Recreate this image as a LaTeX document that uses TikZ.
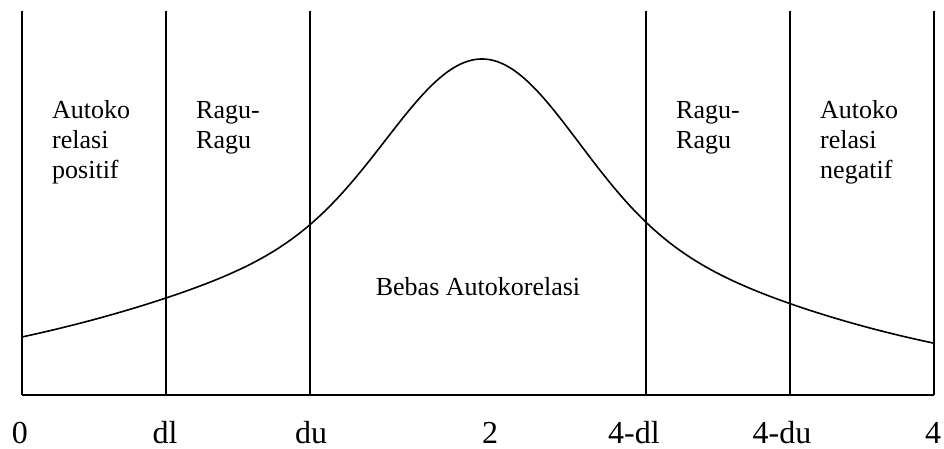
\documentclass[tikz,border=0pt]{standalone}
\usepackage{fontspec}
\setmainfont{Liberation Serif}
\begin{document}
\begin{tikzpicture}[x=1pt,y=-1pt,
  ln/.style={line width=1.6pt},
  zone/.style={font=\fontsize{26}{30}\selectfont, anchor=base west, align=left, inner sep=0pt},
  tick/.style={font=\fontsize{32}{36}\selectfont, anchor=base, inner sep=0pt}]
\useasboundingbox (0,0) rectangle (944,448);
% axis frame
\coordinate (b0) at (22,395);
\coordinate (b4) at (934,395);
\foreach \n/\x in {v0/22,v1/166,v2/310,v3/646,v4/790,v5/934}{
  \coordinate (\n t) at (\x,11);
  \coordinate (\n b) at (\x,395);
  \draw[ln] (\n t) -- (\n b);
}
\draw[ln] (b0) -- (b4);
% curve
\draw[ln, line join=round] plot[domain=-460:452, samples=181, smooth]
  ({482+\x}, {395 - 155*exp(-0.5*(\x/89)^2) - 181/cosh(\x/ifthenelse(\x<0,255,235))});
% zone labels
\node[zone] (z1) at (52,178) {Autoko\\relasi\\positif};
\node[zone] (z2) at (196,148) {Ragu-\\Ragu};
\node[zone] (z4) at (676,148) {Ragu-\\Ragu};
\node[zone] (z5) at (820,178) {Autoko\\relasi\\negatif};
\node[zone, anchor=base] (z3) at (478,295) {Bebas Autokorelasi};
% ticks
\node[tick] (t0) at (20,443) {0};
\node[tick] (t1) at (165,443) {dl};
\node[tick] (t2) at (311,443) {du};
\node[tick] (t3) at (490,443) {2};
\node[tick] (t4) at (634,443) {4-dl};
\node[tick] (t5) at (782,443) {4-du};
\node[tick] (t6) at (933,443) {4};
\end{tikzpicture}
\end{document}
